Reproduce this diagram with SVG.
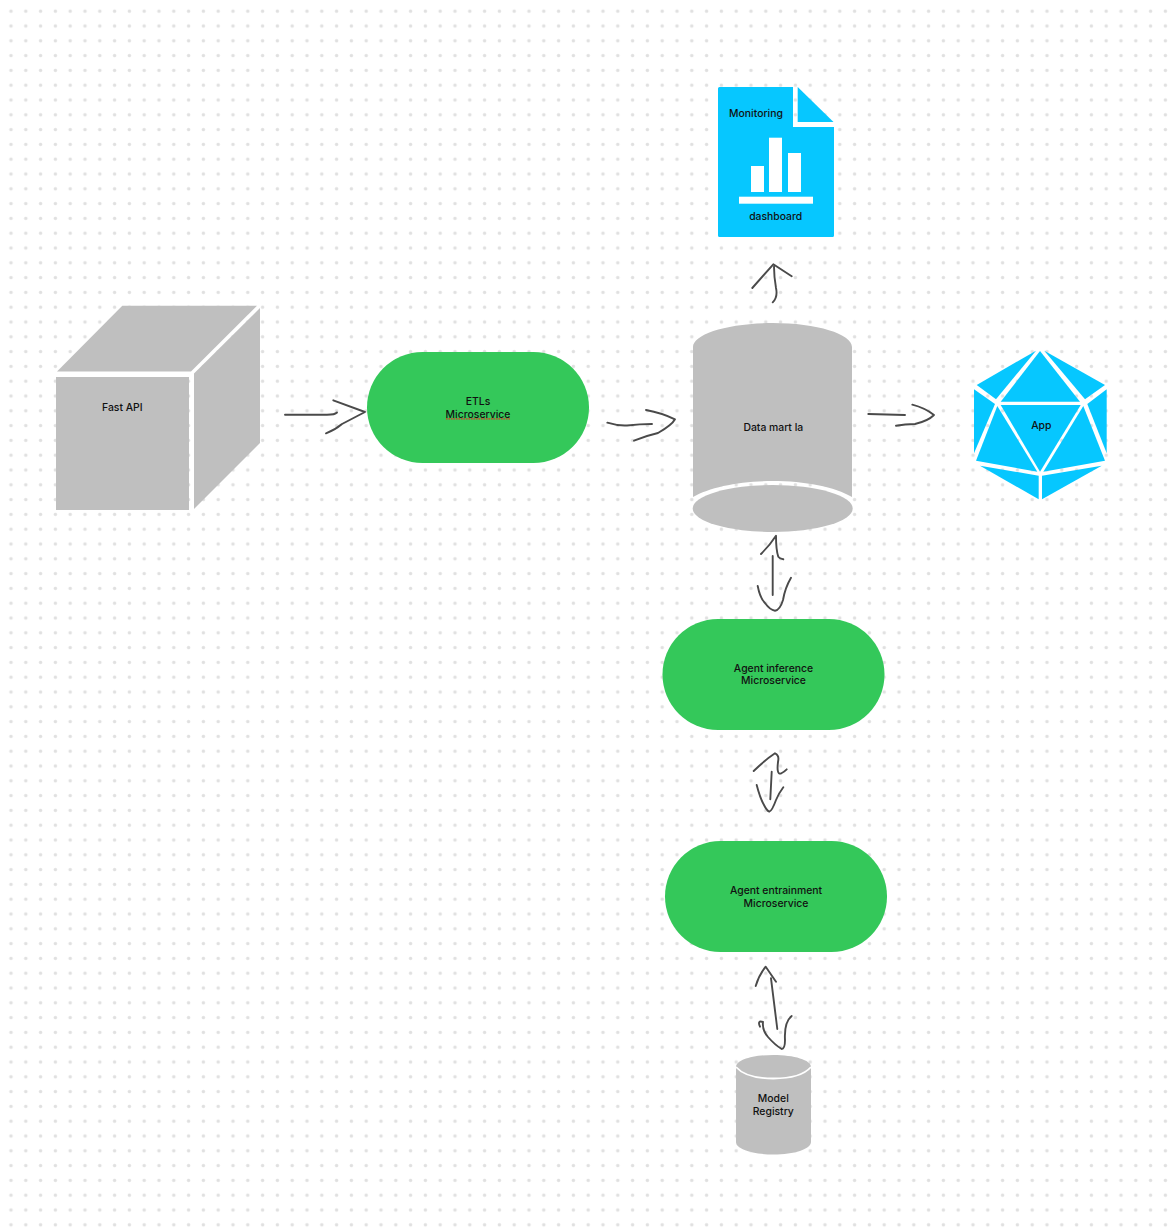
<svg xmlns="http://www.w3.org/2000/svg" width="1174" height="1228" viewBox="0 0 1174 1228">
<style>
.g{fill:#bfbfbf}
.b{fill:#06c7ff}
.p{fill:#34c85a}
.w{fill:#fff}
.c{fill:none;stroke:#4a4a4a;stroke-width:1.9;stroke-linecap:round;stroke-linejoin:round}
text{font-family:"Inter","Liberation Sans",sans-serif;font-size:10.4px;font-weight:500;fill:#111;text-anchor:middle}
</style>
<defs>
<pattern id="dots" x="3.6" y="3.8" width="14.8" height="14.8" patternUnits="userSpaceOnUse">
<circle cx="7.4" cy="7.4" r="1.7" fill="#e0e0e0"/>
</pattern>
</defs>
<rect width="1174" height="1228" fill="#fff"/>
<rect width="1174" height="1228" fill="url(#dots)"/>
<g id="connectors">
<path class="c" d="M285,414.7H327Q335,414.7 337,412.5M333.3,400.3L365,412L342,424Q335,430 326,433.3"/>
<path class="c" d="M607.3,422.7Q618,426 627,425.500Q640,424 652,424M646,410Q662,413 675,419.3Q672,425 658,433Q645,436 634,440.7"/>
<path class="c" d="M772.7,302.3Q778,297 776,288Q774,276 774,266.7M752.3,288L773.3,264.3L791.7,276.3"/>
<path class="c" d="M868.3,414L905,415M912.3,404.7Q925,408 934,415Q928,421 915,424Q905,424 896,425.7"/>
<path class="c" d="M761,554Q770,545 776,535.7Q776,550 778.3,556.7Q780,559 783.3,559.3M772.7,556V595M757.7,586Q760,598 765,603Q770,610 775,610.7Q780,610 783,600Q785,588 791,577.7"/>
<path class="c" d="M753.7,771Q765,760 775,753.3Q779,755 778.3,760Q776,775 781,773.5Q784,772 786.7,769.3M771.7,771.7L770.3,799.3M756.7,785Q760,798 764,805Q767,811 769.3,811.7Q772,811 776,800Q779,793 783.3,787.3"/>
<path class="c" d="M755.7,986Q759,975 765.7,966.7L776,981.7M771,978.3L777.3,1029M760,1026.7Q757,1020 763,1022Q762,1030 768,1037Q775,1045 781.7,1049Q785,1049 785,1040Q784,1022 791.7,1016"/>
</g>
<g id="fast-api">
<rect class="g" x="56" y="377" width="133" height="133"/>
<polygon class="g" points="57,371.5 122.3,305.8 257,305.8 191,371.5"/>
<polygon class="g" points="194,373.5 260,308 260,443 194,509"/>
<text x="122.3" y="410.7">Fast API</text>
</g>
<g id="etl">
<rect class="p" x="367" y="352" width="222" height="111" rx="55.5"/>
<text x="478" y="404.5">ETLs</text>
<text x="478" y="417.8">Microservice</text>
<path d="M446,418.800H510" fill="none" stroke="#f02a20" stroke-width="1.300" stroke-dasharray="1.500 1"/>
</g>
<g id="data-mart">
<path class="g" d="M693,347C693,334 728,323 772.5,323C817,323 852,334 852,347V497C835,487 805,481 772.5,481C740,481 710,487 693,497Z"/>
<ellipse class="g" cx="772.7" cy="508.5" rx="80" ry="23.5"/>
<text x="773.3" y="430.7">Data mart la</text>
</g>
<g id="monitoring">
<path class="b" d="M719.5,87H793V127H834V235.5Q834,237 832.5,237H719.5Q718,237 718,235.5V88.5Q718,87 719.5,87Z"/>
<polygon class="b" points="797.7,87 833.5,122 797.7,122"/>
<g class="w">
<rect x="751" y="166" width="13" height="26"/>
<rect x="769" y="137.7" width="13" height="54.3"/>
<rect x="788" y="153" width="13" height="39"/>
<rect x="739" y="196.7" width="74" height="7"/>
</g>
<text x="756" y="117">Monitoring</text>
<text x="775.7" y="220">dashboard</text>
</g>
<g id="app">
<g class="b">
<polygon points="1040,351 1080,401.7 1000.7,401.7"/>
<polygon points="1036,350.7 976.7,385 996,399.3"/>
<polygon points="1044.3,350.7 1105,385 1085,399.3"/>
<polygon points="974,389.3 995,404 974,453.3"/>
<polygon points="1106.7,389.3 1087.3,404 1106.7,453.3"/>
<polygon points="1000.7,405 1080.7,405 1040,471.7"/>
<polygon points="997.3,406 1037.3,471.7 976,460.7"/>
<polygon points="1083.3,406 1043.3,471.7 1105,460.7"/>
<polygon points="980,465.7 1038.7,475.7 1038.7,499.3"/>
<polygon points="1042,475.7 1101.7,465.7 1042,499.3"/>
</g>
<text x="1041.3" y="429.3">App</text>
</g>
<g id="agent-inference">
<rect class="p" x="662.5" y="619" width="222" height="111" rx="55.5"/>
<text x="773.5" y="672">Agent inference</text>
<text x="773.5" y="684">Microservice</text>
</g>
<g id="agent-entrainment">
<rect class="p" x="665" y="841" width="222" height="111" rx="55.5"/>
<text x="776" y="894">Agent entrainment</text>
<text x="776" y="907">Microservice</text>
</g>
<g id="model-registry">
<path class="g" d="M736,1067C736,1060 753,1055 773.4,1055C794,1055 811,1060 811,1067V1142C811,1149 794,1154.5 773.4,1154.5C753,1154.5 736,1149 736,1142Z"/>
<path d="M736,1067C743,1075 757,1078.5 773.4,1078.5C790,1078.5 804,1075 811,1067" fill="none" stroke="#fff" stroke-width="1.8"/>
<text x="773.3" y="1102">Model</text>
<text x="773.3" y="1115">Registry</text>
</g>
</svg>
